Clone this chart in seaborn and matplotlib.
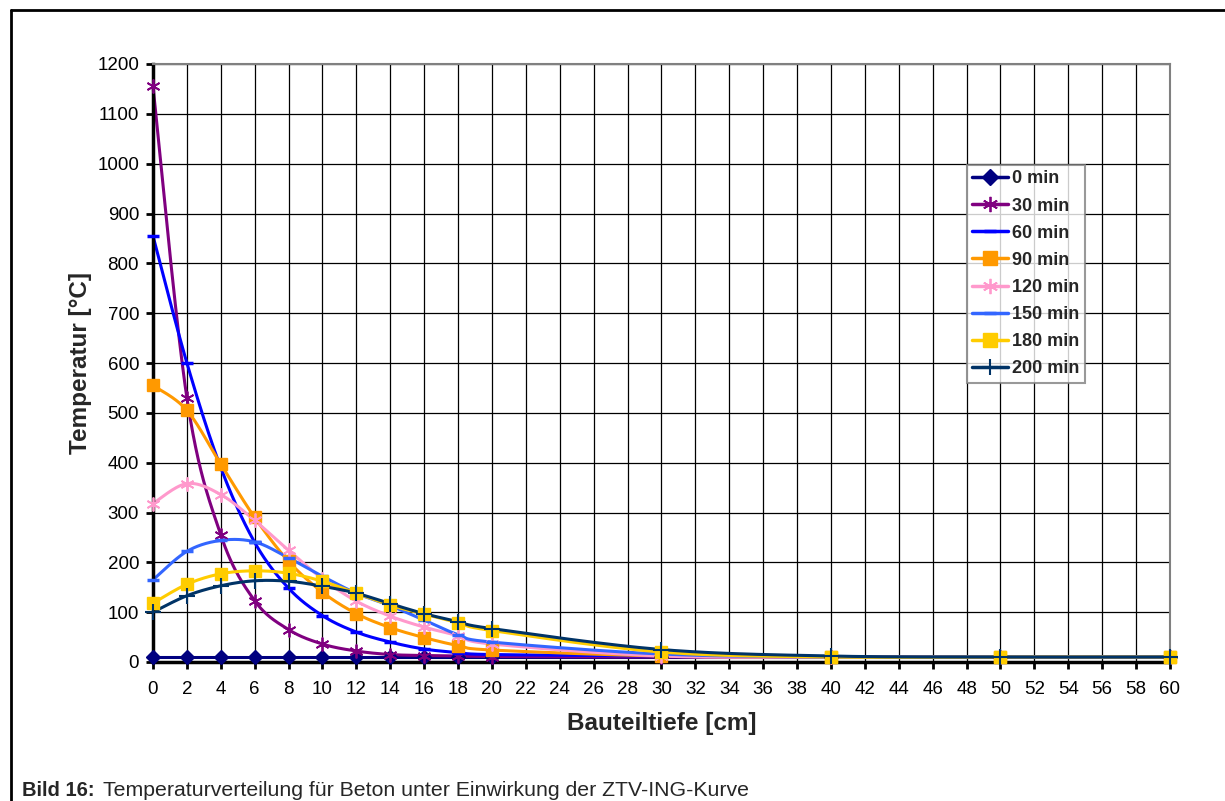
import numpy as np
import pandas as pd
import seaborn as sns
import matplotlib.pyplot as plt
from matplotlib.lines import Line2D

# depth [cm] and temperatures [°C]
depth = [0, 2, 4, 6, 8, 10, 12, 14, 16, 18, 20, 30, 40, 50, 60]
t_0 = [10, 10, 10, 10, 10, 10, 10, 10, 10, 10, 10, 10, 10, 10, 10]
t_30 = [1155, 530, 255, 123, 65, 36, 22, 15, 13, 12, 11, 10, 10, 10, 10]
t_60 = [855, 600, 390, 240, 148, 93, 60, 40, 26, 19, 15, 12, 10, 10, 10]
t_90 = [555, 505, 397, 290, 202, 140, 97, 69, 49, 33, 24, 12, 10, 10, 10]
t_120 = [318, 358, 336, 284, 224, 167, 122, 92, 70, 53, 36, 12, 10, 10, 10]
t_150 = [165, 222, 244, 241, 209, 172, 138, 113, 84, 55, 40, 16, 10, 10, 10]
t_180 = [118, 156, 177, 183, 178, 162, 138, 114, 96, 79, 63, 20, 10, 10, 10]
t_200 = [100, 133, 153, 163, 162, 152, 138, 117, 97, 81, 67, 25, 12, 10, 10]

labels = ['0 min', '30 min', '60 min', '90 min', '120 min', '150 min', '180 min', '200 min']
series = [t_0, t_30, t_60, t_90, t_120, t_150, t_180, t_200]
colors = ['#000080', '#800080', '#0000FF', '#FF9900', '#FF99CC', '#3366FF', '#FFCC00', '#003366']
markers = ['D', (6, 2, 0), '_', 's', (6, 2, 0), '_', 's', '+']
msizes = [7, 10, 8, 9, 10, 8, 9, 11]
mews = [1, 1.3, 2.5, 1, 1.3, 2.5, 1, 1.5]

rows = []
for lab, vals in zip(labels, series):
    for d, v in zip(depth, vals):
        rows.append({'Bauteiltiefe': d, 'Temperatur': v, 'Zeit': lab})
df = pd.DataFrame(rows)


def smooth_line(xs, ys, n=40):
    # Excel-like smoothed line (Bezier through the points, in screen proportions)
    sx, sy = 1017 / 60, 598 / 1200
    P = np.column_stack([np.asarray(xs, float) * sx, np.asarray(ys, float) * sy])
    pad = np.vstack([P[0], P, P[-1]])
    t = np.linspace(0, 1, n)[:, None]
    parts = []
    for i in range(len(P) - 1):
        p0, p1, p2, p3 = pad[i], pad[i + 1], pad[i + 2], pad[i + 3]
        c1 = p1 + (p2 - p0) / 6
        c2 = p2 - (p3 - p1) / 6
        parts.append((1 - t) ** 3 * p1 + 3 * (1 - t) ** 2 * t * c1 + 3 * (1 - t) * t ** 2 * c2 + t ** 3 * p2)
    out = np.vstack(parts)
    return out[:, 0] / sx, out[:, 1] / sy


sns.set_style('white')
plt.rcParams['font.family'] = ['Liberation Sans', 'DejaVu Sans']

fig = plt.figure(figsize=(12.25, 8.01), dpi=100)
ax = fig.add_axes([153 / 1225, 1 - 662 / 801, 1017 / 1225, 598 / 801])

handles = []
for lab, col, mk, ms, mew in zip(labels, colors, markers, msizes, mews):
    sub = df[df['Zeit'] == lab]
    sx, sy = smooth_line(sub['Bauteiltiefe'], sub['Temperatur'])
    sns.lineplot(x=sx, y=sy, color=col, lw=2.2, sort=False, ax=ax, clip_on=False)
    ax.plot(sub['Bauteiltiefe'], sub['Temperatur'], ls='none', marker=mk, ms=ms,
            color=col, mec=col, mew=mew, clip_on=False, zorder=3)
    handles.append(Line2D([], [], color=col, lw=2.5, marker=mk, ms=ms + 1, mec=col, mew=mew))

ax.set_xlim(0, 60)
ax.set_ylim(0, 1200)
ax.set_xticks(np.arange(0, 61, 2))
ax.set_yticks(np.arange(0, 1201, 100))
ax.grid(True, color='black', lw=0.9)
ax.set_axisbelow(True)
ax.tick_params(axis='both', direction='out', length=5, width=2, labelsize=13.5,
               colors='black', bottom=True, left=True)
ax.tick_params(axis='x', pad=9)
ax.tick_params(axis='y', pad=5)
for s in ['left', 'bottom']:
    ax.spines[s].set_color('black')
    ax.spines[s].set_linewidth(2.5)
for s in ['top', 'right']:
    ax.spines[s].set_color('#808080')
    ax.spines[s].set_linewidth(1.5)

ax.set_xlabel('Bauteiltiefe [cm]', fontsize=17.5, fontweight='bold', labelpad=10)
ax.set_ylabel('Temperatur [°C]', fontsize=17.5, fontweight='bold', labelpad=4)

leg = ax.legend(handles, labels, loc='upper left', bbox_to_anchor=(0.8, 0.831),
                prop={'weight': 'bold', 'size': 13}, frameon=True, fancybox=False,
                edgecolor='#808080', handlelength=2.0, handletextpad=0.2,
                labelspacing=0.56, borderpad=0.3, borderaxespad=0)
leg.get_frame().set_linewidth(1.5)

# outer frame of the page figure
fig.add_artist(Line2D([11 / 1225, 11 / 1225], [0, 1 - 10 / 801], color='black', lw=2,
                      transform=fig.transFigure))
fig.add_artist(Line2D([11 / 1225, 1], [1 - 10 / 801, 1 - 10 / 801], color='black', lw=2,
                      transform=fig.transFigure))

fig.text(22 / 1225, 1 - 781 / 801, 'Bild 16:', fontsize=14.5, fontweight='bold', va='top')
fig.text(103 / 1225, 1 - 781 / 801, 'Temperaturverteilung für Beton unter Einwirkung der ZTV-ING-Kurve',
         fontsize=15.3, va='top')

fig.savefig('out.png', dpi=100)
